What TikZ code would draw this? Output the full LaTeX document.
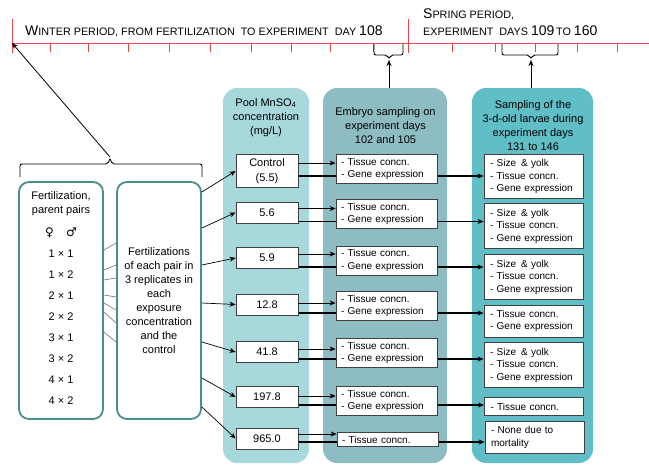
\documentclass[tikz,border=0pt]{standalone}
\usepackage{fontspec}
\setmainfont{Liberation Sans}
\newfontfamily\symfont{DejaVu Sans}
\usetikzlibrary{calc,arrows.meta}

\pgfdeclarelayer{back}
\pgfdeclarelayer{lines}
\pgfsetlayers{back,lines,main}

\definecolor{poolfill}{HTML}{A6D8DC}
\definecolor{embfill}{HTML}{8DBCC2}
\definecolor{larvfill}{HTML}{60BEC6}
\definecolor{tealline}{HTML}{4A8E8E}
\definecolor{axisred}{HTML}{E8454A}

% big first letters of the fake small caps
\newcommand{\scup}[1]{{\fontsize{14}{14}\selectfont #1}}

\begin{document}
\begin{tikzpicture}[x=1pt,y=-1pt,>={Stealth[length=6pt,width=5pt]},
    colbg/.style={rounded corners=14pt,inner sep=0pt,minimum height=375pt},
    colhead/.style={align=center,font=\fontsize{11}{14}\selectfont},
    pairbox/.style={draw=tealline,line width=1.8pt,rounded corners=10pt,minimum width=84pt,minimum height=237pt,inner sep=2pt,align=center},
    concbox/.style={draw=black!75,fill=white,line width=0.8pt,minimum width=62pt,minimum height=21pt,inner xsep=2pt,inner ysep=4pt,align=center,font=\fontsize{11}{15}\selectfont},
    embbox/.style={draw=black!75,fill=white,line width=0.8pt,text width=91pt,inner xsep=5pt,inner ysep=3.5pt,align=left,font=\fontsize{10}{12.5}\selectfont},
    larvbox/.style={embbox,text width=87pt,inner xsep=6pt,inner ysep=5pt},
    timetxt/.style={anchor=base west,inner sep=0pt,font=\fontsize{10.8}{17}\selectfont},
    redtick/.style={axisred,line width=0.8pt},
    bracepath/.style={line width=0.9pt,rounded corners=2pt},
    pairline/.style={black!55,line width=0.6pt},
    feed/.style={->,line width=0.7pt},
    thru/.style={->,line width=1.2pt}
  ]
  \useasboundingbox (0,0) rectangle (649,466);

  % Time line
  \coordinate (tlstart) at (12,43);
  \draw[axisred,line width=1pt] (tlstart) -- (649,43);
  \draw[redtick] (12,19) -- (12,53);
  \draw[redtick] (408,19) -- (408,53);
  \foreach \x in {50,88,128,169,210,251,291,330,373,452,495,535,577,617}
    \draw[redtick] (\x,43) -- (\x,52);
  \node[timetxt] (wintertxt) at (25,35)
    {\scup{W}INTER PERIOD, FROM FERTILIZATION\ \ TO EXPERIMENT\ \ DAY \scup{108}};
  \node[timetxt,align=left] (springtxt) at (423,35)
    {\scup{S}PRING PERIOD,\\EXPERIMENT\ \ DAYS \scup{109}\,TO \scup{160}};

  % Columns
  \begin{pgfonlayer}{back}
    \node[colbg,fill=poolfill,minimum width=86pt] (poolcol) at (266,275.5) {};
    \node[colbg,fill=embfill,minimum width=124pt] (embcol) at (385,275.5) {};
    \node[colbg,fill=larvfill,minimum width=121pt] (larvcol) at (532.5,275.5) {};
  \end{pgfonlayer}
  \node[colhead] (poolhead) at (266,117.5) {Pool MnSO\textsubscript{4}\\concentration\\(mg/L)};
  \node[colhead] (embhead) at (385.5,125.5) {Embryo sampling on\\experiment days\\102 and 105};
  \node[colhead] (larvhead) at (533,126) {Sampling of the\\3-d-old larvae during\\experiment days\\131 to 146};

  % Braces up to the time line
  \draw[bracepath] (374,44) -- (374,55) -- (387,55) -- (389,59) -- (391,55) -- (403,55) -- (403,44);
  \coordinate (embtip) at (389,60);
  \draw[->,line width=0.9pt] (embtip |- embcol.north) -- (embtip);
  \draw[bracepath] (502,44) -- (502,55) -- (529,55) -- (531,59) -- (533,55) -- (558,55) -- (558,44);
  \coordinate (larvtip) at (531,60);
  \draw[->,line width=0.9pt] (larvtip |- larvcol.north) -- (larvtip);
  \draw[bracepath] (20,177) -- (20,164) -- (108,164) -- (110,158) -- (112,164) -- (202,164) -- (202,177);
  \coordinate (pairtip) at (110,157);
  \draw[->,line width=0.8pt] (pairtip) -- (tlstart);

  % Parent pairs and fertilizations
  \node[pairbox] (fertbox) at (61,300.5) {};
  \node[anchor=north,align=center,inner sep=0pt,font=\fontsize{11}{14}\selectfont] (pairtxt) at (61,191)
    {Fertilization,\\parent pairs\\[9pt]{\symfont\fontsize{12}{14}\selectfont ♀\quad ♂}\\[7pt]1 × 1\\[7pt]1 × 2\\[7pt]2 × 1\\[7pt]2 × 2\\[7pt]3 × 1\\[7pt]3 × 2\\[7pt]4 × 1\\[7pt]4 × 2};
  \node[pairbox,font=\fontsize{11}{13.9}\selectfont] (repbox) at (159,300.5)
    {Fertilizations\\of each pair in\\3 replicates in\\each\\exposure\\concentration\\and the\\control};
  \draw[pairline] ([yshift=50.5pt]fertbox.east) -- ([yshift=57.5pt]repbox.west);
  \draw[pairline] ([yshift=30.5pt]fertbox.east) -- ([yshift=35.5pt]repbox.west);
  \draw[pairline] ([yshift=20.5pt]fertbox.east) -- ([yshift=22.5pt]repbox.west);
  \draw[pairline] ([yshift=5.5pt]fertbox.east) -- ([yshift=3.5pt]repbox.west);
  \draw[pairline] ([yshift=-2.5pt]fertbox.east) -- ([yshift=-9.5pt]repbox.west);
  \draw[pairline] ([yshift=-11.5pt]fertbox.east) -- ([yshift=-22.5pt]repbox.west);
  \draw[pairline] ([yshift=-31.5pt]fertbox.east) -- ([yshift=-41.5pt]repbox.west);

  % Concentrations
  \node[concbox] (c1) at (267,171) {Control\\(5.5)};
  \node[concbox] (c2) at (267,212.5) {5.6};
  \node[concbox] (c3) at (267,258) {5.9};
  \node[concbox] (c4) at (267,304.5) {12.8};
  \node[concbox] (c5) at (267,352) {41.8};
  \node[concbox] (c6) at (267,397) {197.8};
  \node[concbox] (c7) at (267,438.5) {965.0};

  % Embryo sampling
  \node[embbox] (e1) at (386.5,169) {- Tissue concn.\\- Gene expression};
  \node[embbox] (e2) at (386.5,214) {- Tissue concn.\\- Gene expression};
  \node[embbox] (e3) at (386.5,260.5) {- Tissue concn.\\- Gene expression};
  \node[embbox] (e4) at (386.5,306) {- Tissue concn.\\- Gene expression};
  \node[embbox] (e5) at (386.5,353) {- Tissue concn.\\- Gene expression};
  \node[embbox] (e6) at (386.5,401) {- Tissue concn.\\- Gene expression};
  \node[embbox] (e7) at (387.5,439.5) {- Tissue concn.};

  % Larvae sampling
  \node[larvbox] (l1) at (533.5,176.5) {- Size\enspace\& yolk\\- Tissue concn.\\- Gene expression};
  \node[larvbox] (l2) at (533.5,226) {- Size\enspace\& yolk\\- Tissue concn.\\- Gene expression};
  \node[larvbox] (l3) at (533.5,277) {- Size\enspace\& yolk\\- Tissue concn.\\- Gene expression};
  \node[larvbox] (l4) at (533.5,321) {- Tissue concn.\\- Gene expression};
  \node[larvbox] (l5) at (533.5,365) {- Size\enspace\& yolk\\- Tissue concn.\\- Gene expression};
  \node[larvbox] (l6) at (534,406.5) {- Tissue concn.};
  \node[larvbox] (l7) at (534.5,437.5) {- None due to\\mortality};

  % Fertilizations into each concentration
  \draw[feed] ([yshift=108.5pt]repbox.east) -- (c1.west);
  \draw[feed] ([yshift=72.5pt]repbox.east) -- (c2.west);
  \draw[feed] ([yshift=35.5pt]repbox.east) -- (c3.west);
  \draw[feed] ([yshift=-2.5pt]repbox.east) -- (c4.west);
  \draw[feed] ([yshift=-41.5pt]repbox.east) -- (c5.west);
  \draw[feed] ([yshift=-77.5pt]repbox.east) -- (c6.west);
  \draw[feed] ([yshift=-106.5pt]repbox.east) -- (c7.west);

  % Concentration to embryo sampling
  \draw[feed] ([yshift=8pt]c1.east) -- ([yshift=8pt]c1.east -| e1.west);
  \draw[feed] ([yshift=4pt]c2.east) -- ([yshift=4pt]c2.east -| e2.west);
  \draw[feed] ([yshift=4pt]c3.east) -- ([yshift=4pt]c3.east -| e3.west);
  \draw[feed] ([yshift=1.5pt]c4.east) -- ([yshift=1.5pt]c4.east -| e4.west);
  \draw[feed] ([yshift=3pt]c5.east) -- ([yshift=3pt]c5.east -| e5.west);
  \draw[feed] ([yshift=1pt]c6.east) -- ([yshift=1pt]c6.east -| e6.west);
  \draw[feed] ([yshift=4.5pt]c7.east) -- ([yshift=4.5pt]c7.east -| e7.west);

  % Concentration through to larvae sampling
  \begin{pgfonlayer}{lines}
    \draw[thru] ([yshift=-5pt]c1.east) -- ([yshift=-5pt]c1.east -| l1.west);
    \draw[thru] ([yshift=-9pt]c2.east) -- ([yshift=-9pt]c2.east -| l2.west);
    \draw[thru] ([yshift=-9pt]c3.east) -- ([yshift=-9pt]c3.east -| l3.west);
    \draw[thru] ([yshift=-8.5pt]c4.east) -- ([yshift=-8.5pt]c4.east -| l4.west);
    \draw[thru] ([yshift=-7pt]c5.east) -- ([yshift=-7pt]c5.east -| l5.west);
    \draw[thru] ([yshift=-8pt]c6.east) -- ([yshift=-8pt]c6.east -| l6.west);
    \draw[thru] ([yshift=-3.5pt]c7.east) -- ([yshift=-3.5pt]c7.east -| l7.west);
  \end{pgfonlayer}
\end{tikzpicture}
\end{document}
